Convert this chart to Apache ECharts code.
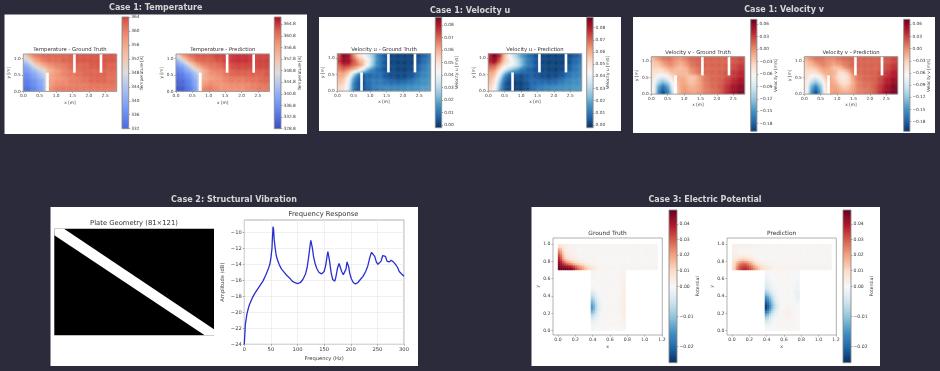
<!DOCTYPE html>
<html><head><meta charset="utf-8">
<style>html,body{margin:0;padding:0;background:#2b2b3b}#c{width:940px;height:371px;filter:blur(0.6px)}</style>
<script src="https://cdn.jsdelivr.net/npm/echarts@6/dist/echarts.min.js"></script>
</head><body><div id="c"></div>
<script>
// ---------- data ----------
// Fields: 20 columns x 8 rows, rows listed top (y high) to bottom. Temperature in K, velocities in 1e-3 m/s.
const tempTruth=[
[350,357,360,361,362,362,362,362,362,362,363,363,363,363,363,363,363,363,363,363],
[345,349,355,358,360,361,361,361,362,362,362,363,363,363,363,363,363,363,363,363],
[340,344,349,353,356,358,359,360,360,361,362,362,362,362,363,363,363,363,362,362],
[338,340,343,346,349,354,356,358,359,360,361,361,362,362,362,362,362,362,362,362],
[336,338,340,343,346,355,357,358,359,360,360,361,361,362,362,362,362,362,361,361],
[335,336,338,340,343,356,357,358,358,359,360,360,361,361,362,362,362,362,361,361],
[334,335,337,339,342,357,358,359,359,359,360,360,360,360,361,361,361,361,361,361],
[333,334,336,338,341,358,359,360,360,360,360,360,360,360,360,360,360,360,360,360]];
const tempPred=[
[349,357,360,362,363,363,363,363,364,364,364,364,365,365,365,365,364,364,364,364],
[342,347,354,358,361,362,362,362,363,363,364,364,365,365,365,365,364,364,364,364],
[338,341,345,351,356,359,360,361,361,362,363,363,364,364,364,364,364,364,364,364],
[335,337,340,344,348,353,357,359,360,360,361,362,363,363,363,363,363,363,363,363],
[333,335,337,340,344,353,356,358,358,359,360,361,362,362,362,362,362,362,362,363],
[332,333,335,338,342,354,356,357,358,358,359,360,360,360,360,361,361,361,362,362],
[331,332,334,337,341,356,358,359,358,358,358,359,359,359,359,359,360,360,361,361],
[330,331,333,336,340,358,360,360,359,358,358,358,358,358,358,359,359,360,360,360]];
const uTruth=[
[72,86,80,66,52,46,38,28,16,8,4,2,1,1,1,1,2,3,6,10],
[76,85,82,72,62,55,44,30,16,8,4,2,1,1,1,1,2,4,8,12],
[70,78,76,70,66,58,44,28,15,8,4,2,1,1,1,1,3,6,10,14],
[65,68,62,58,50,38,22,14,9,6,4,3,2,1,1,2,4,8,12,15],
[60,60,52,30,14,6,7,8,9,8,4,3,2,2,2,3,5,10,13,15],
[58,55,42,18,6,3,8,10,10,10,6,5,4,3,4,6,8,13,15,16],
[55,52,38,14,5,3,8,11,12,12,11,10,10,10,11,12,14,15,16,17],
[52,48,35,12,4,3,6,10,12,13,14,14,14,14,15,16,16,17,18,18]];
const uPred=[
[78,88,76,58,44,34,24,16,10,6,3,2,1,1,1,1,2,3,5,8],
[80,85,70,56,48,40,30,20,12,7,4,2,1,1,1,1,2,4,7,10],
[72,72,60,50,44,40,32,20,12,8,4,2,1,1,1,1,3,5,9,12],
[65,62,50,38,28,22,16,10,7,5,4,3,2,1,1,2,4,7,10,13],
[60,56,40,20,8,6,4,4,6,6,4,3,2,2,2,3,6,10,12,13],
[58,50,30,10,3,2,2,3,6,7,6,5,4,4,5,7,10,13,14,15],
[55,46,24,6,2,1,1,2,5,8,9,10,10,10,11,13,14,15,16,16],
[52,42,20,5,2,1,1,2,4,8,11,12,13,14,15,15,16,16,17,17]];
const vTruth=[
[-20,-5,5,10,5,-5,-5,5,12,15,15,15,15,15,15,15,15,18,22,25],
[-30,-25,-10,0,0,-10,-15,-5,8,14,15,15,15,15,15,15,16,20,25,28],
[-35,-35,-30,-15,-10,-20,-25,-15,0,8,12,14,14,15,15,15,18,24,30,35],
[-45,-50,-50,-40,-25,-25,-20,-25,-8,2,8,12,14,15,15,18,22,30,35,40],
[-50,-75,-85,-72,-42,-15,-15,-20,-30,-25,-8,5,12,14,15,18,24,32,38,44],
[-55,-105,-125,-110,-65,-25,-10,-15,-28,-20,-8,5,12,14,16,22,32,40,48,52],
[-60,-135,-165,-145,-85,-30,-10,-10,-20,-15,-8,3,10,13,16,25,36,46,54,58],
[-60,-150,-190,-165,-100,-35,-8,-5,-12,-10,-5,3,8,12,16,28,40,52,60,65]];
const vPred=[
[-15,0,8,10,5,0,2,8,12,15,15,15,15,15,15,15,15,18,22,28],
[-28,-18,-5,3,3,-5,-8,-2,5,10,14,15,15,15,15,15,15,20,26,30],
[-35,-32,-25,-10,-5,-12,-25,-25,-10,5,12,14,15,15,15,15,17,24,32,38],
[-42,-48,-45,-30,-15,-15,-18,-42,-45,-25,5,12,14,15,15,17,22,30,38,44],
[-45,-70,-80,-60,-30,-10,-25,-45,-55,-40,-10,8,12,14,15,18,26,36,44,50],
[-50,-100,-120,-95,-45,-10,-15,-35,-48,-38,-15,3,10,12,14,20,30,42,50,56],
[-55,-130,-160,-125,-55,-10,-10,-20,-35,-28,-12,2,8,10,12,22,34,46,56,62],
[-55,-145,-190,-140,-60,-12,-5,-10,-18,-15,-6,2,6,8,12,24,38,52,62,68]];
// slots in the channel: [x0,y0,x1,y1] in metres
const channelSlots=[[0.70,0,0.78,0.57],[1.52,0.57,1.60,1.15],[2.33,0.57,2.41,1.15]];
// Frequency response
const freqHz=[0,2,5,8,10,15,20,25,30,35,40,45,48,50,52,53,54,55,56,58,60,63,66,70,75,80,85,90,95,100,105,110,115,118,120,122,124,125,126,128,130,133,136,140,145,148,150,153,155,157,158,160,163,166,168,170,172,175,178,180,183,186,189,191,193,194,196,198,201,205,209,213,218,223,228,232,236,239,242,245,248,251,254,257,260,262,265,268,272,276,280,284,288,291,294,297,300];
const ampDb=[-24,-21.5,-20.2,-19.4,-19,-18.2,-17.6,-17.1,-16.6,-16.1,-15.4,-14.6,-14,-13.2,-12,-10.5,-9.3,-9.6,-10.8,-12,-12.9,-13.6,-14.1,-14.6,-15,-15.4,-15.7,-16.1,-16.3,-16.4,-16.3,-15.9,-15.2,-14.4,-13.5,-12.5,-11.4,-11,-11.2,-12,-13,-13.9,-14.5,-15,-15.2,-15.1,-14.9,-14.1,-13.2,-12.4,-12.5,-13.5,-15,-15.9,-16.1,-16.1,-15.6,-14.5,-13.9,-14.1,-14.9,-15.3,-15.2,-14.6,-13.7,-13.6,-14.3,-15.1,-15.8,-16.3,-16.45,-16.3,-15.9,-15.5,-14.9,-14.2,-13.1,-12.5,-12.4,-13,-13.7,-14,-14,-13.6,-12.9,-12.7,-13,-13.6,-13.7,-13.5,-13.7,-14,-14.4,-14.9,-15.1,-15.3,-15.5];
// Plate: white band outline in grid cells (x 0..120, y 0..80, y down)
const plateBand=[[0,0],[7.3,0],[120,75.5],[120,80],[113,80],[0,5]];
// Electric potential, 1e-3 units. Bar of the T: 6 rows, 23 columns; stem: 14 rows, 8 columns. Top to bottom.
const barTruth=[
[6,3,1.5,1.5,1,1,1,1,1,1,1,1,1,1,1,1,1,1,1,1,1,1,1],
[22,5,2,1.5,1,0.5,0.5,0.5,0.5,0.5,0.5,0.5,0.5,0.5,0.5,0.5,0.5,0.5,0.5,0.5,0.5,0.5,1],
[30,8,3,2,1.5,1,0.5,0.5,0.5,0.5,0.5,0.5,0.5,0.5,0.5,0.5,0.5,0.5,0.5,0.5,0.5,0.5,1],
[38,14,6,4,2,1,0.5,0.5,0.5,0.5,0.5,0.5,0.5,0.5,0.5,0.5,0.5,0.5,0.5,0.5,0.5,0.5,1],
[45,32,22,14,9,5,2,1,1,0.5,0.5,0.5,0.5,0.5,0.5,0.5,0.5,0.5,0.5,0.5,0.5,0.5,1],
[47,47,46,42,30,22,13,8,4,1.5,1,1,1,1,1,1,1,1,1,1,1,1,1]];
const stemTruth=[
[2,0.5,0.5,0.5,0.5,0.5,0.5,1.5],[0.5,0.5,0.5,0.5,0.5,0.5,0.5,2.5],[0,0.5,0.5,0.5,0.5,0.5,0.5,2.5],[0,0,0.5,0.5,0.5,0.5,0.5,2.5],
[-1,0,0.5,0.5,0.5,0.5,0.5,3],[-4,-1,0,0.5,0.5,0.5,0.5,3.5],[-8,-2,0,0.5,0.5,0.5,0.5,3.5],[-12,-4,-0.5,0.5,0.5,0.5,0.5,3.5],
[-15,-5,-1,0.5,0.5,0.5,0.5,3.5],[-13,-4,-0.5,0.5,0.5,0.5,0.5,3.5],[-7,-2,0,0.5,0.5,0.5,0.5,3.5],[-3,-1,0,0.5,0.5,0.5,0.5,2.5],
[-1,-0.5,0,0.5,0.5,0.5,0.5,1.5],[-0.5,0,0,0,0,0,0,0.5]];
const barPred=[
[2,2,2,2,2,1.5,1,1,1,1,1,1,1,1,1,1,1,1,1,1,1,1,1],
[3,1.5,0.5,0.5,0.5,0.5,0.5,0.5,0.5,0.5,0.5,0.5,0.5,0.5,0.5,0.5,0.5,0.5,0.5,0.5,0.5,0.5,1],
[3,2,1,1,1,0.5,0.5,0.5,0.5,0.5,0.5,0.5,0.5,0.5,0.5,0.5,0.5,0.5,0.5,0.5,0.5,0.5,1],
[4,7,9,7,5,1.5,0.5,0.5,0.5,0.5,0.5,0.5,0.5,0.5,0.5,0.5,0.5,0.5,0.5,0.5,0.5,0.5,1],
[7,22,28,26,18,7,3,2,1.5,1,1,1,1,1,1,1,1,1,1,1,1,1,1],
[9,30,36,36,30,20,11,7,4,2,1.5,1.5,1.5,1.5,1.5,1.5,1.5,1.5,1.5,1.5,1.5,1.5,1.5]];
const stemPred=[
[1,0.5,0.5,0.5,0.5,0.5,0.5,0.5],[-1,0,0.5,0.5,0.5,0.5,0,-0.5],[-2,-0.5,0,0.5,0.5,0.5,0,-0.5],[-3,-1,0,0,0.5,0.5,0,-1],
[-5,-2,-0.5,0,0.5,0.5,0,-1.5],[-10,-5,-1,0,0.5,0.5,0,-2],[-16,-9,-2,0,0.5,0.5,0,-2],[-21,-12,-4,-0.5,0.5,0.5,0,-1],
[-25,-14,-5,-1,0.5,1,0.5,0],[-20,-10,-3,0,2,2,0.5,0],[-12,-5,-1,0,2,3,1,0.5],[-6,-2,0,0.5,1,1,0.5,0.5],
[-2,-0.5,0,0.5,0.5,0.5,0.5,0.5],[0,0,0,0.5,0.5,0.5,0.5,0.5]];
// tick labels
const chanXTicks=[0,0.5,1,1.5,2,2.5], chanYTicks=[0,0.5,1];
const tempTicksTruth=[332,336,340,344,348,352,356,360,364];
const tempTicksPred=[328.8,332.8,336.8,340.8,344.8,348.8,352.8,356.8,360.8,364.8];
const uTicks=[0,0.01,0.02,0.03,0.04,0.05,0.06,0.07,0.08];
const vTicks=[-0.18,-0.15,-0.12,-0.09,-0.06,-0.03,0,0.03,0.06];
const tXTicks=[0,0.2,0.4,0.6,0.8,1,1.2], tYTicks=[0,0.2,0.4,0.6,0.8,1];
const potPosTicks=[0,0.01,0.02,0.03,0.04], potNegTicks=[-0.02,-0.01];
const freqTicks=[0,50,100,150,200,250,300], ampTicks=[-24,-22,-20,-18,-16,-14,-12,-10];

// ---------- colour maps ----------
const hex=h=>[parseInt(h.slice(1,3),16),parseInt(h.slice(3,5),16),parseInt(h.slice(5,7),16)];
const RDBU=['#053061','#2166ac','#4393c3','#92c5de','#d1e5f0','#f7f7f7','#fddbc7','#f4a582','#d6604d','#b2182b','#67001f'].map(hex);
const COOLWARM=['#3b4cc0','#5577e6','#7a9df8','#aac1f0','#dddddd','#f2c1a8','#f4987a','#dd604c','#b40426'].map(hex);
function cmap(stops,t){t=Math.max(0,Math.min(1,t));const p=t*(stops.length-1),i=Math.min(stops.length-2,Math.floor(p)),f=p-i,a=stops[i],b=stops[i+1];
  return 'rgb('+[0,1,2].map(k=>Math.round(a[k]+(b[k]-a[k])*f)).join(',')+')';}
const linear=(stops,lo,hi)=>v=>cmap(stops,(v-lo)/(hi-lo));
const FONT='DejaVu Sans', TXT='#3a3a3a', FRAME='#9a9a9a';

// ---------- option builders ----------
const grid=[],xAxis=[],yAxis=[],series=[],title=[],graphic=[];
const minus=s=>String(s).replace('-','\u2212');
function axisBase(min,max,ticks,fmt,size,name,gap,extra){
  return Object.assign({type:'value',min,max,name,nameLocation:'middle',nameGap:gap,nameMoveOverlap:false,
    nameTextStyle:{fontFamily:FONT,fontSize:size,color:TXT},
    axisLine:{show:false,onZero:false},splitLine:{show:false},
    axisTick:{show:true,length:1.5,customValues:ticks,lineStyle:{color:'#555',width:0.5}},
    axisLabel:{fontFamily:FONT,fontSize:size,color:TXT,margin:2.5,customValues:ticks,formatter:v=>minus(fmt(v))}},extra||{});
}
function addAxes(l,t,w,h,xa,ya,border){
  const i=grid.length;
  grid.push({left:l,top:t,width:w,height:h,show:!!border,borderColor:border||'transparent',borderWidth:border?0.9:0,backgroundColor:'transparent'});
  xa.gridIndex=i;ya.gridIndex=i;xAxis.push(xa);yAxis.push(ya);return i;
}
// Draw a grid of read values, shaded smoothly across each cell (like Gouraud shading of a pcolormesh).
function addField(i,rows,x0,y1,dx,dy,scale,colorFn,n){
  const data=[],H=rows.length,W=rows[0].length;
  rows.forEach((r,j)=>r.forEach((v,c)=>data.push([x0+c*dx,y1-(j+1)*dy,x0+(c+1)*dx,y1-j*dy,v*scale,c,j])));
  const at=(c,j)=>rows[Math.max(0,Math.min(H-1,j))][Math.max(0,Math.min(W-1,c))];
  series.push({type:'custom',xAxisIndex:i,yAxisIndex:i,silent:true,animation:false,z:2,encode:{x:[0,2],y:[1,3]},data,
    renderItem:(p,api)=>{
      const a=api.coord([api.value(0),api.value(3)]),b=api.coord([api.value(2),api.value(1)]);
      const c=api.value(5),j=api.value(6),w=(b[0]-a[0])/n,h=(b[1]-a[1])/n,children=[];
      for(let q=0;q<n;q++)for(let s=0;s<n;s++){
        const gx=c+(s+0.5)/n-0.5,gy=j+(q+0.5)/n-0.5,c0=Math.floor(gx),j0=Math.floor(gy),fx=gx-c0,fy=gy-j0;
        const val=(at(c0,j0)*(1-fx)+at(c0+1,j0)*fx)*(1-fy)+(at(c0,j0+1)*(1-fx)+at(c0+1,j0+1)*fx)*fy;
        const col=colorFn(val*scale);
        children.push({type:'rect',shape:{x:a[0]+s*w,y:a[1]+q*h,width:w,height:h},style:{fill:col,stroke:col,lineWidth:0.4}});
      }
      return {type:'group',children};
    }});
}
function addRects(i,rects,fill,stroke,z){
  series.push({type:'custom',xAxisIndex:i,yAxisIndex:i,silent:true,animation:false,z:z||3,encode:{x:[0,2],y:[1,3]},data:rects,
    renderItem:(p,api)=>{const a=api.coord([api.value(0),api.value(1)]),b=api.coord([api.value(2),api.value(3)]);
      return {type:'rect',shape:{x:Math.min(a[0],b[0]),y:Math.min(a[1],b[1]),width:Math.abs(a[0]-b[0]),height:Math.abs(a[1]-b[1])},style:{fill,stroke,lineWidth:stroke?0.9:0}};}});
}
function colorbar(l,t,w,h,lo,hi,ticks,fmt,stops,tLo,tHi,label,labelGap,size,framed){
  const i=addAxes(l,t,w,h,{type:'value',min:0,max:1,show:false},
    axisBase(lo,hi,ticks,fmt,size,label,labelGap,{position:'right',nameRotate:90}),null);
  const colorStops=[];for(let k=0;k<=24;k++){const f=k/24;colorStops.push({offset:f,color:cmap(stops,tHi+(tLo-tHi)*f)});}
  addRects(i,[[0,lo,1,hi]],{type:'linear',x:0,y:0,x2:0,y2:1,colorStops},framed===false?null:'#8a8a8a',3);
}
function addTitle(text,x,y,size,color,weight){
  title.push({text,left:x,top:y,textAlign:'center',textVerticalAlign:'middle',padding:0,
    textStyle:{fontFamily:FONT,fontSize:size,color,fontWeight:weight||'normal'}});
}
function panel(x,y,w,h){graphic.push({type:'rect',z:-1,silent:true,shape:{x,y,width:w,height:h},style:{fill:'#ffffff'}});}

const f2=v=>v.toFixed(2), f1=v=>v.toFixed(1), f0=v=>v.toFixed(0);
const S=4.3,TITLE=8;
function channel(l,t,rows,scale,colorFn,ttl){
  const i=addAxes(l,t,93.4,37.4,
    axisBase(0,2.85,chanXTicks,f1,S,'x [m]',9),
    axisBase(0,1.14,chanYTicks,f1,S,'y [m]',12.5));
  addField(i,rows,0,1.14,2.85/20,1.14/8,scale,colorFn,4);
  addRects(i,channelSlots,'#ffffff',null,3);
  addRects(i,[[0,0,2.85,1.14]],'transparent',FRAME,4);
  addTitle(ttl,l+46.7,t-4,5.3,'#333');
}

// ---------- Case 1 ----------
panel(4.5,14.5,302.5,119.5);
const tN=linear(COOLWARM,328.8,367.3);
channel(23.3,54,tempTruth,1,tN,'Temperature - Ground Truth');
channel(176,54,tempPred,1,tN,'Temperature - Prediction');
colorbar(122,17,6.7,111.7,332,364,tempTicksTruth,f0,COOLWARM,(332-328.8)/38.5,(364-328.8)/38.5,'Temperature [K]',11,S);
colorbar(274.3,17,6.7,111.7,328.8,367.3,tempTicksPred,f1,COOLWARM,0,1,'Temperature [K]',16.5,S);
addTitle('Case 1: Temperature',155.7,8,TITLE,'#d6d6d6','bold');

panel(319,17,302,114);
const uN=linear(RDBU,-0.0022,0.0885);
channel(337.3,53.7,uTruth,0.001,uN,'Velocity u - Ground Truth');
channel(488.3,53.7,uPred,0.001,uN,'Velocity u - Prediction');
colorbar(435.3,17.3,6.4,110.4,-0.0022,0.0862,uTicks,f2,RDBU,0,0.975,'Velocity u [m/s]',13,S);
colorbar(586.7,17.3,6.4,110.4,-0.0022,0.0885,uTicks,f2,RDBU,0,1,'Velocity u [m/s]',13,S);
addTitle('Case 1: Velocity u',470,10.5,TITLE,'#d6d6d6','bold');

panel(633,17,302,116);
const vN=linear(RDBU,-0.2038,0.0723);
channel(651.3,56.7,vTruth,0.001,vN,'Velocity v - Ground Truth');
channel(804.3,56.7,vPred,0.001,vN,'Velocity v - Prediction');
colorbar(750.7,19.3,6.2,112,-0.1985,0.0721,vTicks,f2,RDBU,0.02,1,'Velocity v [m/s]',16.5,S);
colorbar(903.7,19.3,6.2,112,-0.2038,0.0723,vTicks,f2,RDBU,0,1,'Velocity v [m/s]',16.5,S);
addTitle('Case 1: Velocity v',784,9.5,TITLE,'#d6d6d6','bold');

// ---------- Case 2 ----------
panel(50.5,207,367.5,159);
addTitle('Case 2: Structural Vibration',234,200,TITLE,'#d6d6d6','bold');
addTitle('Plate Geometry (81\u00d7121)',134,223,6.8,'#333');
const pi=addAxes(54.3,228.7,159.7,106.6,
  {type:'value',min:0,max:120,show:false},{type:'value',min:0,max:80,inverse:true,show:false});
addRects(pi,[[0,0,120,80]],'#000000',null,2);
series.push({type:'custom',xAxisIndex:pi,yAxisIndex:pi,silent:true,animation:false,z:3,data:[[0,0]],
  renderItem:(p,api)=>({type:'polygon',shape:{points:plateBand.map(q=>api.coord(q))},style:{fill:'#ffffff'}})});
addTitle('Frequency Response',323.5,214,6.8,'#333');
const fi=addAxes(244.3,220,159.7,124.3,
  axisBase(0,300,freqTicks,f0,5.2,'Frequency (Hz)',11.5,{splitLine:{show:true,lineStyle:{color:'#e6e6e6',width:0.6}}}),
  axisBase(-24,-8.46,ampTicks,f0,5.2,'Amplitude (dB)',19,{splitLine:{show:true,lineStyle:{color:'#e6e6e6',width:0.6}}}),'#a8a8a8');
series.push({type:'line',xAxisIndex:fi,yAxisIndex:fi,silent:true,animation:false,symbol:'none',z:4,
  lineStyle:{color:'#2a2fcf',width:1.3},data:freqHz.map((f,k)=>[f,ampDb[k]])});

// ---------- Case 3 ----------
panel(531.5,207,348.5,159);
addTitle('Case 3: Electric Potential',705,200,TITLE,'#d6d6d6','bold');
const potN=v=>cmap(RDBU,v>=0?0.5+0.5*v/0.0488:0.5+0.5*v/0.0253);
const ST=4.6;
function tee(l,ttl,bar,stem){
  const i=addAxes(l,238,109.3,97,
    axisBase(-0.058,1.204,tXTicks,f1,ST,'x',9),
    axisBase(-0.05,1.07,tYTicks,f1,ST,'y',13),null);
  addField(i,bar,0,1,0.05,0.05,0.001,potN,2);
  addField(i,stem,0.38,0.7,0.05,0.05,0.001,potN,2);
  addRects(i,[[-0.058,-0.05,1.204,1.07]],'transparent','#a8a8a8',4);
  addTitle(ttl,l+54.6,233.5,5.9,'#333');
}
tee(553,'Ground Truth',barTruth,stemTruth);
tee(727,'Prediction',barPred,stemPred);
function potBar(l){
  colorbar(l,210,8,76.3,0,0.0488,potPosTicks,f2,RDBU,0.5,1,'',0,ST,false);
  colorbar(l,286.3,8,76.4,-0.0253,0,potNegTicks,f2,RDBU,0,0.5,'',0,ST,false);
  // caption and outline share an invisible axis spanning the two halves
  const i=addAxes(l,210,8,152.7,{type:'value',min:0,max:1,show:false},
   {type:'value',min:0,max:1,position:'right',name:'Potential',nameLocation:'middle',nameGap:18.5,nameRotate:90,nameMoveOverlap:false,
    nameTextStyle:{fontFamily:FONT,fontSize:ST,color:TXT},axisLine:{show:false},axisTick:{show:false},axisLabel:{show:false},splitLine:{show:false}},null);
  addRects(i,[[0,0,1,1]],'transparent','#8a8a8a',4);
}
potBar(669);potBar(843);

const chart=echarts.init(document.getElementById('c'),null,{renderer:'canvas'});
chart.setOption({animation:false,backgroundColor:'#2b2b3b',title,grid,xAxis,yAxis,series,graphic});
</script></body></html>
